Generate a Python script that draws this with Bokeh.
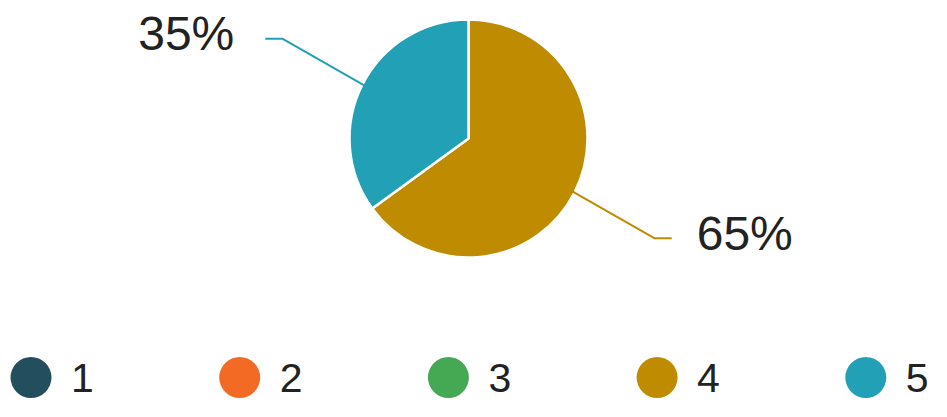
import math
from bokeh.plotting import figure
from bokeh.models import Range1d, ColumnDataSource
from bokeh.core.properties import value
from bokeh.embed import file_html
from bokeh.resources import INLINE

# ---- data ----
categories = ["1", "2", "3", "4", "5"]
shares = [0, 0, 0, 65, 35]
colors = ["#234E5E", "#F36A24", "#45A853", "#BF8B00", "#22A0B6"]

FONT = value("Liberation Sans")
W, H = 931, 401


def py(fig_y):
    # figure pixel y (from top) -> data y (axis up)
    return H - fig_y


p = figure(width=W, height=H, output_backend="svg", toolbar_location=None,
           x_range=Range1d(0, W), y_range=Range1d(0, H),
           min_border=0, outline_line_color=None, background_fill_color="white",
           border_fill_color="white")
p.axis.visible = False
p.grid.visible = False

cx, cy, r = 468, py(138), 119
total = float(sum(shares))

# wedges
cum = 0.0
ws = dict(start=[], end=[], color=[])
labels = []
for cat, v, c in zip(categories, shares, colors):
    if v <= 0:
        continue
    a0 = cum / total
    a1 = (cum + v) / total
    ws["start"].append(math.pi / 2 - a1 * 2 * math.pi)
    ws["end"].append(math.pi / 2 - a0 * 2 * math.pi)
    ws["color"].append(c)
    mid = math.pi / 2 - (a0 + a1) / 2 * 2 * math.pi
    labels.append((mid, v, c))
    cum += v

src = ColumnDataSource(ws)
p.wedge(x=cx, y=cy, radius=r, start_angle="start", end_angle="end",
        fill_color="color", line_color="white", line_width=2.5, source=src)

# leader lines and labels
for mid, v, c in labels:
    dx, dy = math.cos(mid), math.sin(mid)
    ex, ey = cx + r * dx, cy + r * dy
    L = 90
    bx, by = ex + L * dx, ey + L * dy * 1.12
    side = 1 if dx >= 0 else -1
    hx = bx + side * 17
    p.line([ex - 3 * dx, bx, hx], [ey - 3 * dy, by, by], line_color=c, line_width=2)
    p.text(x=[hx + side * (25 if side > 0 else 31)], y=[by + 5], text=[f"{v}%"],
           text_font=FONT, text_font_size="48px", text_color="#222222",
           text_align="left" if side > 0 else "right", text_baseline="middle")

# legend
lx0, ldx, ly = 30.5, 208.7, py(377)
for i, (cat, c) in enumerate(zip(categories, colors)):
    x = lx0 + i * ldx
    p.circle(x=[x], y=[ly], radius=20.5, fill_color=c, line_color=None)
    p.text(x=[x + 40], y=[ly], text=[cat], text_font=FONT,
           text_font_size="41px", text_color="#222222",
           text_align="left", text_baseline="middle")

open("out.html", "w").write(file_html(p, INLINE))
